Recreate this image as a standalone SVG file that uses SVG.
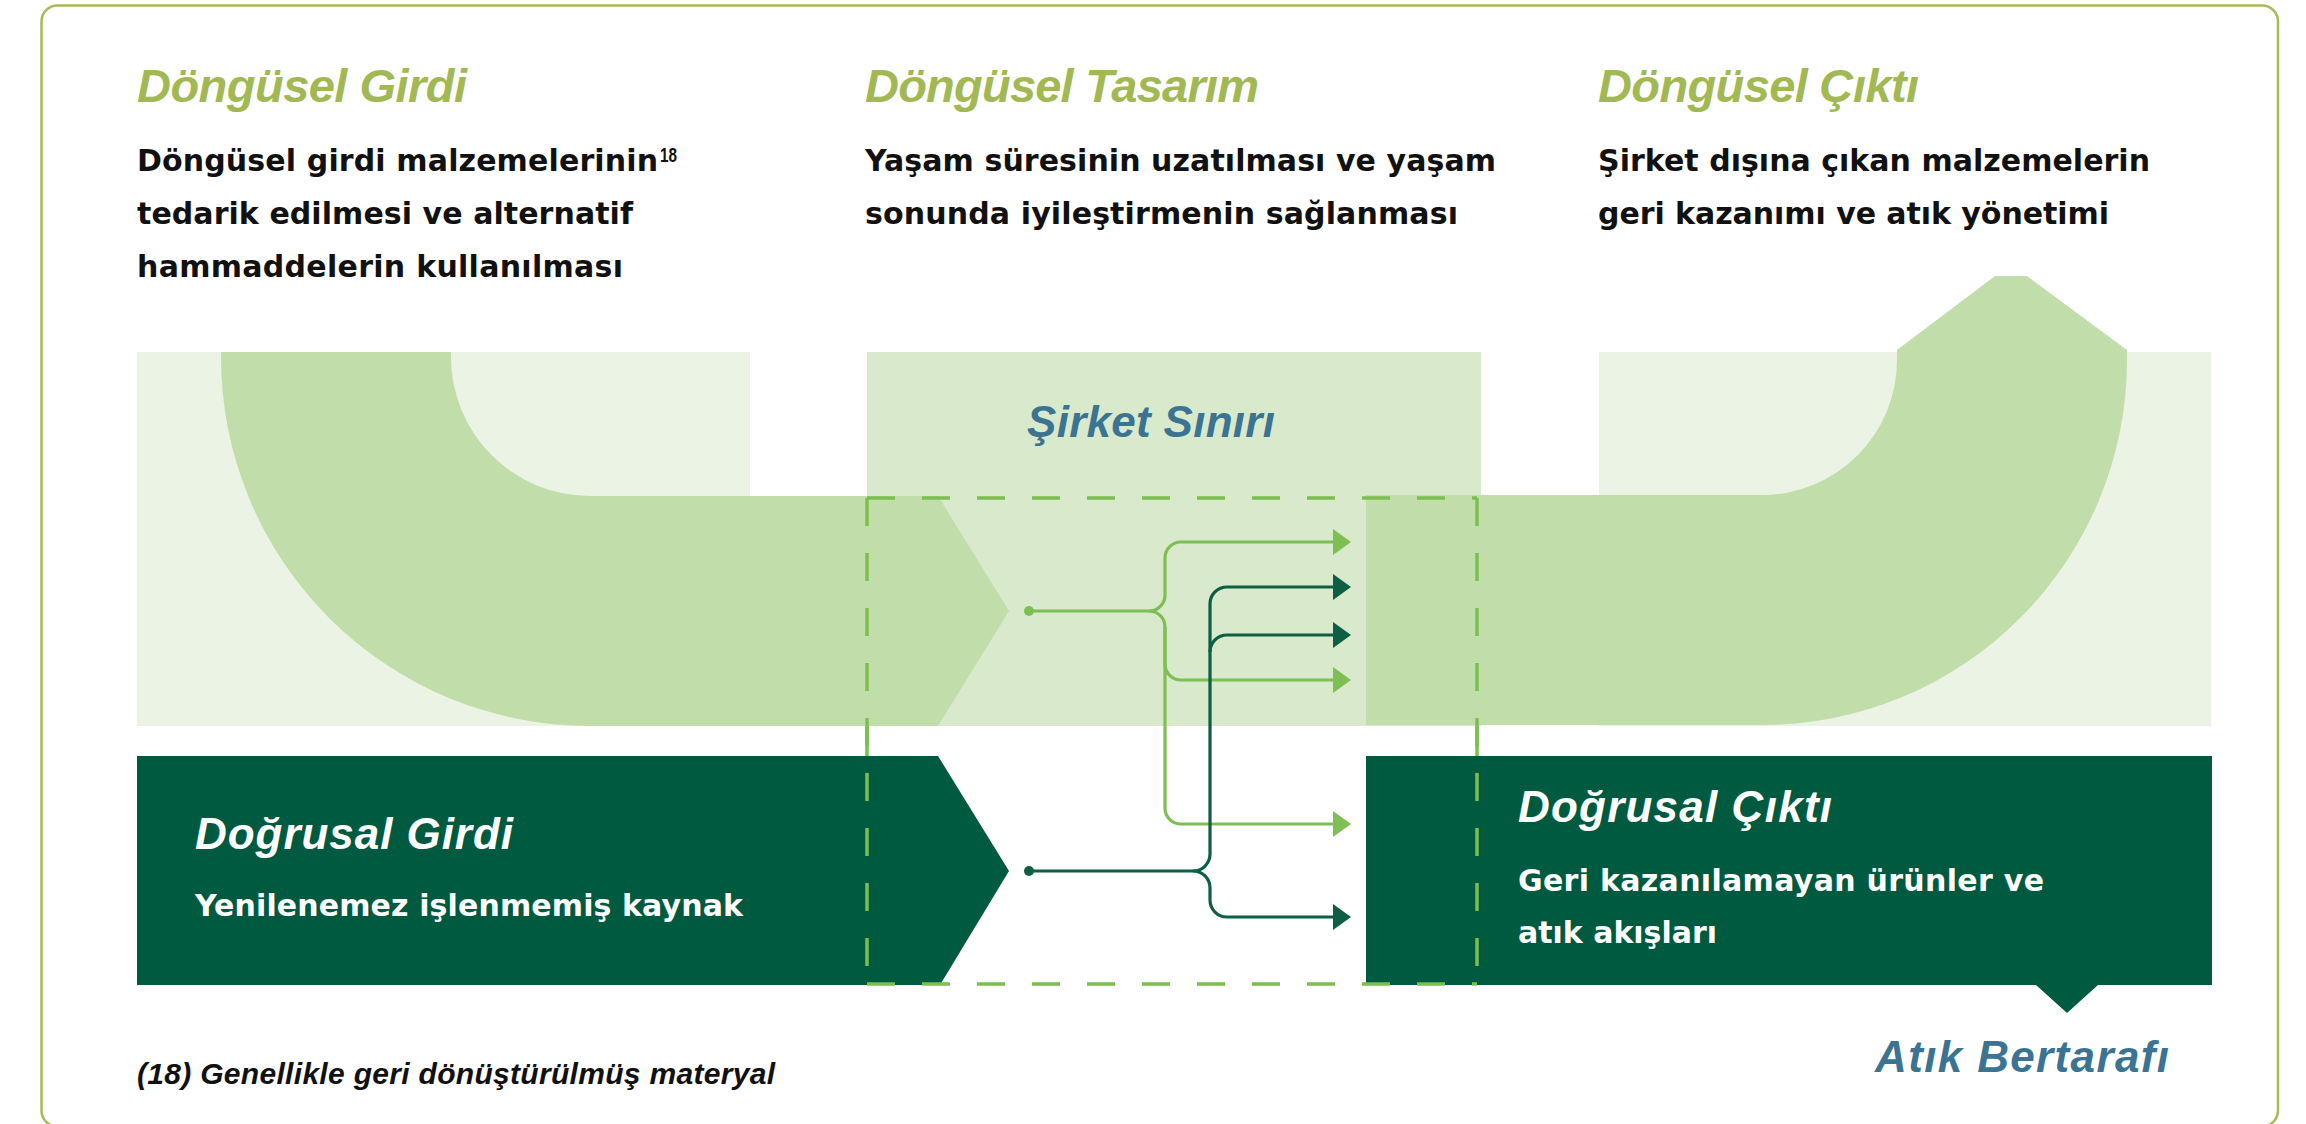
<svg xmlns="http://www.w3.org/2000/svg" width="2306" height="1124" viewBox="0 0 2306 1124">
<style>
.head{font-family:"Liberation Sans",Arial,sans-serif;font-weight:bold;font-style:italic;font-size:47px;fill:#a2b853}
.body{font-family:"DejaVu Sans",Verdana,sans-serif;font-weight:bold;font-size:30px;fill:#111111}
.bodyw{font-family:"DejaVu Sans",Verdana,sans-serif;font-weight:bold;font-size:30px;fill:#ffffff}
.titw{font-family:"Liberation Sans",Arial,sans-serif;font-weight:bold;font-style:italic;font-size:44px;fill:#ffffff}
.teal{font-family:"Liberation Sans",Arial,sans-serif;font-weight:bold;font-style:italic;font-size:44px;fill:#3a7492}
.note{font-family:"Liberation Sans",Arial,sans-serif;font-weight:bold;font-style:italic;font-size:30px;fill:#111111}
.sup{font-family:"Liberation Sans",Arial,sans-serif;font-weight:bold;font-size:20px;fill:#111111}
.light{fill:#ebf3e4}
.mid{fill:#d9e9cb}
.med{fill:#c1dda9}
.dark{fill:#005a40}
.fl{fill:none;stroke:#7dbf52;stroke-width:3.2}
.fd{fill:none;stroke:#0d5e44;stroke-width:3.2}
.dash{fill:none;stroke:#7cbf4f;stroke-width:3.5;stroke-dasharray:28 27}
.solid{fill:none;stroke:#7cbf4f;stroke-width:3.5}
</style>
<defs>
<marker id="ahL" viewBox="0 0 18 26" refX="0" refY="13" markerWidth="18" markerHeight="26" markerUnits="userSpaceOnUse" orient="auto"><path d="M0,0 L18,13 L0,26 Z" fill="#7dbf52"/></marker>
<marker id="ahD" viewBox="0 0 18 26" refX="0" refY="13" markerWidth="18" markerHeight="26" markerUnits="userSpaceOnUse" orient="auto"><path d="M0,0 L18,13 L0,26 Z" fill="#0d5e44"/></marker>
</defs>
<rect width="2306" height="1124" fill="#ffffff"/>
<rect x="41.5" y="5.5" width="2236.5" height="1121" rx="16" fill="none" stroke="#a8bb58" stroke-width="2.5"/>

<g id="background-bands">
<rect class="light" x="137" y="352" width="613" height="374"/>
<rect class="mid" x="867" y="352" width="614" height="374"/>
<rect class="light" x="1599" y="352" width="612" height="374"/>
</g>

<g id="circular-input-flow">
<path class="med" d="M221 352 H451 V357 A139 139 0 0 0 590 496 H938 L1009 611 L938 726 H590 A369 369 0 0 1 221 357 Z"/>
</g>
<g id="circular-output-flow">
<path class="med" d="M1366 495 H1762 A135 135 0 0 0 1897 360 V350 L1995 276 H2027 L2127 350 V360 A365 365 0 0 1 1762 725 H1366 Z"/>
</g>

<g id="linear-input">
<path class="dark" d="M137 756 H938 L1009 871 L940 985 H137 Z"/>
<text class="titw" x="195" y="849" textLength="318">Doğrusal Girdi</text>
<text class="bodyw" x="195" y="916" textLength="548">Yenilenemez işlenmemiş kaynak</text>
</g>

<g id="linear-output">
<path class="dark" d="M1366 756 H2212 V985 H2098 L2067 1013 L2036 985 H1366 Z"/>
<text class="titw" x="1518" y="822" textLength="314">Doğrusal Çıktı</text>
<text class="bodyw" x="1518" y="891" textLength="526">Geri kazanılamayan ürünler ve</text>
<text class="bodyw" x="1518" y="943" textLength="199">atık akışları</text>
</g>

<g id="circular-input-text">
<text class="head" x="137" y="102" textLength="330">Döngüsel Girdi</text>
<text class="body" x="137" y="171" textLength="521">Döngüsel girdi malzemelerinin</text>
<text class="sup" x="660" y="162" textLength="17" lengthAdjust="spacingAndGlyphs">18</text>
<text class="body" x="137" y="224" textLength="496">tedarik edilmesi ve alternatif</text>
<text class="body" x="137" y="277" textLength="486">hammaddelerin kullanılması</text>
</g>

<g id="circular-design-text">
<text class="head" x="865" y="102" textLength="394">Döngüsel Tasarım</text>
<text class="body" x="865" y="171" textLength="631">Yaşam süresinin uzatılması ve yaşam</text>
<text class="body" x="865" y="224" textLength="593">sonunda iyileştirmenin sağlanması</text>
</g>

<g id="circular-output-text">
<text class="head" x="1598" y="102" textLength="321">Döngüsel Çıktı</text>
<text class="body" x="1598" y="171" textLength="552">Şirket dışına çıkan malzemelerin</text>
<text class="body" x="1598" y="224" textLength="511">geri kazanımı ve atık yönetimi</text>
</g>

<g id="company-boundary">
<path class="dash" d="M867 498 H1477"/>
<path class="dash" d="M867 498 V984"/>
<path class="dash" d="M1477 498 V984"/>
<path class="dash" d="M867 984 H1477"/>
<path class="solid" d="M867 726 V756 M1477 726 V756"/>
<text class="teal" x="1027" y="437" textLength="248">Şirket Sınırı</text>
</g>

<g id="connectors">
<circle cx="1029" cy="611" r="5" fill="#7dbf52"/>
<path class="fl" d="M1029 611 H1149 A16 16 0 0 0 1165 595 V558 A16 16 0 0 1 1181 542 H1333" marker-end="url(#ahL)"/>
<path class="fl" d="M1149 611 A16 16 0 0 1 1165 627 V664 A16 16 0 0 0 1181 680 H1333" marker-end="url(#ahL)"/>
<path class="fl" d="M1165 627 V808 A16 16 0 0 0 1181 824 H1333" marker-end="url(#ahL)"/>
<circle cx="1029" cy="871" r="5" fill="#0d5e44"/>
<path class="fd" d="M1029 871 H1193 A17 17 0 0 0 1210 854 V604 A17 17 0 0 1 1227 587 H1333" marker-end="url(#ahD)"/>
<path class="fd" d="M1210 652 A17 17 0 0 1 1227 635 H1333" marker-end="url(#ahD)"/>
<path class="fd" d="M1193 871 A17 17 0 0 1 1210 888 V900 A17 17 0 0 0 1227 917 H1333" marker-end="url(#ahD)"/>
</g>

<g id="waste-disposal">
<text class="teal" x="1875" y="1072" textLength="294">Atık Bertarafı</text>
</g>

<g id="footnote">
<text class="note" x="137" y="1084" textLength="638">(18) Genellikle geri dönüştürülmüş materyal</text>
</g>
</svg>
